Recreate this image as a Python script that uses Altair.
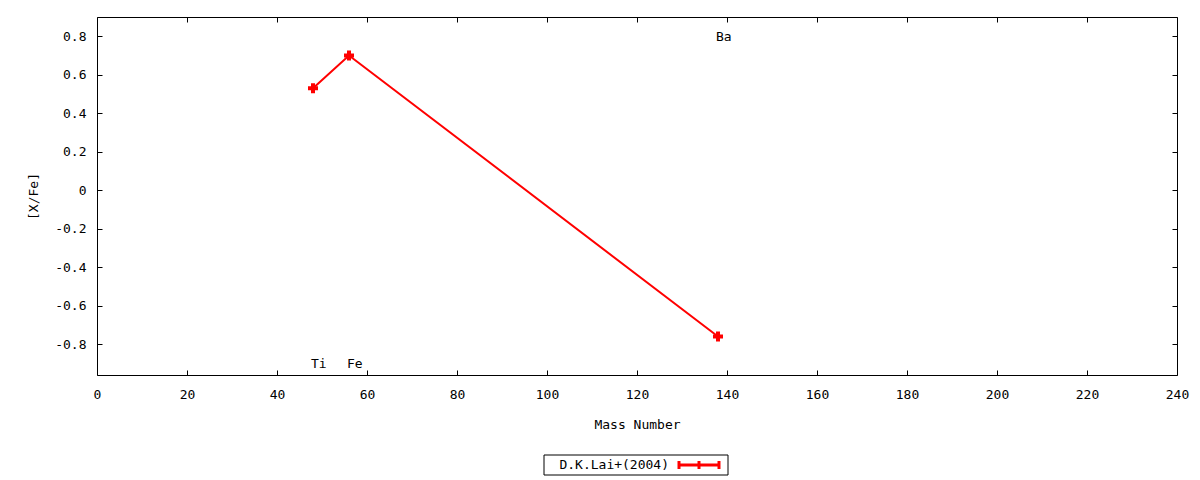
import altair as alt
import pandas as pd

elements = ["Ti", "Fe", "Ba"]
mass = [48, 56, 138]
xfe = [0.53, 0.70, -0.76]
label_y = [-0.9, -0.9, 0.8]
legend_label = ["D.K.Lai+(2004)"]

x_ticks = list(range(0, 241, 20))
y_ticks = [-0.8, -0.6, -0.4, -0.2, 0, 0.2, 0.4, 0.6, 0.8]

df = pd.DataFrame({"element": elements, "mass": mass, "xfe": xfe, "label_y": label_y})
leg = pd.DataFrame({"label": legend_label})

FONT = "DejaVu Sans Mono"
FS = 13

xs = alt.Scale(domain=[0, 240], nice=False, zero=False)
ys = alt.Scale(domain=[-0.96, 0.9], nice=False, zero=False)

fix_minus = "replace(datum.label, '\u2212', '-')"

axis_bottom = alt.Axis(orient="bottom", offset=-5, tickSize=5, domain=False, grid=False,
                       values=x_ticks, labelPadding=13, labelFlush=False, title="Mass Number", titlePadding=17,
                       labelFont=FONT, titleFont=FONT, labelFontSize=FS, titleFontSize=FS,
                       titleFontWeight="normal", tickColor="black", labelColor="black", titleColor="black")
axis_left = alt.Axis(orient="left", offset=-5, tickSize=5, domain=False, grid=False,
                     values=y_ticks, labelPadding=11, labelFlush=False, title="[X/Fe]", titlePadding=14,
                     format=".1~f", labelExpr=fix_minus,
                     labelFont=FONT, titleFont=FONT, labelFontSize=FS, titleFontSize=FS,
                     titleFontWeight="normal", tickColor="black", labelColor="black", titleColor="black")
axis_top = alt.Axis(orient="top", offset=-5, tickSize=5, domain=False, grid=False,
                    values=x_ticks, labels=False, title=None, tickColor="black")
axis_right = alt.Axis(orient="right", offset=-5, tickSize=5, domain=False, grid=False,
                      values=y_ticks, labels=False, title=None, tickColor="black")

line = alt.Chart(df).mark_line(color="red", strokeWidth=2).encode(
    x=alt.X("mass:Q", scale=xs, axis=axis_bottom),
    y=alt.Y("xfe:Q", scale=ys, axis=axis_left),
)
pts = alt.Chart(df).mark_point(shape="cross", filled=True, size=100, color="red", opacity=1, strokeWidth=0).encode(
    x=alt.X("mass:Q", scale=xs, axis=axis_top),
    y=alt.Y("xfe:Q", scale=ys, axis=axis_right),
)
labels = alt.Chart(df).mark_text(align="left", baseline="middle", dx=-2, dy=1, font=FONT, fontSize=FS, color="black").encode(
    x=alt.X("mass:Q", scale=xs, axis=None),
    y=alt.Y("label_y:Q", scale=ys, axis=None),
    text="element:N",
)

# legend box below the plot
leg_box = alt.Chart(leg).mark_rect(fill="white", stroke="black", strokeWidth=1).encode(
    x=alt.value(447), x2=alt.value(631), y=alt.value(438), y2=alt.value(458))
leg_text = alt.Chart(leg).mark_text(align="right", baseline="middle", font=FONT, fontSize=FS, color="black").encode(
    x=alt.value(572), y=alt.value(448), text="label:N")
leg_line = alt.Chart(leg).mark_rule(color="red", strokeWidth=3).encode(
    x=alt.value(581), x2=alt.value(623), y=alt.value(448))
leg_caps = [alt.Chart(leg).mark_rule(color="red", strokeWidth=3).encode(
    x=alt.value(cx), y=alt.value(444), y2=alt.value(452)) for cx in (582, 602, 622)]

chart = alt.layer(line, pts, labels, leg_box, leg_text, leg_line, *leg_caps).resolve_axis(
    x="independent", y="independent"
).properties(
    width=1080, height=358,
    autosize=alt.AutoSizeParams(type="none"),
    padding={"left": 89, "top": 9, "right": 15, "bottom": 101},
    background="white",
).configure_view(stroke="black", strokeWidth=1)

chart.save("out.html", embed_options={"renderer": "svg", "actions": False})
